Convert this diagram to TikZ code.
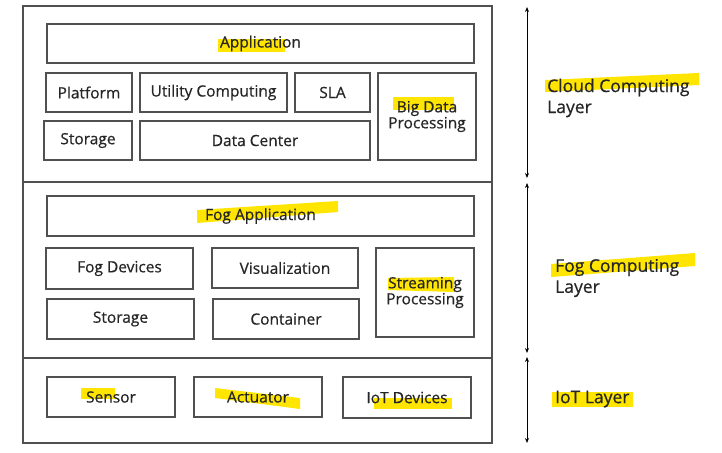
\documentclass[tikz,border=0pt]{standalone}
\usepackage{fontspec}
\setmainfont{Open Sans}[FakeBold=0.6]
\usetikzlibrary{arrows.meta}
\definecolor{hl}{HTML}{FFE500}
\definecolor{edge}{HTML}{505050}
\tikzset{
  box/.style={draw=edge, line width=1.1pt, inner sep=0pt, align=center,
    font=\fontsize{15.5}{18}\selectfont, text=black!85},
  frame/.style={draw=edge, line width=1.2pt},
  hlmark/.style={fill=hl, draw=none},
  lbl/.style={anchor=west, align=left, inner sep=0pt,
    font=\fontsize{17.5}{21}\selectfont, text=black!85},
  span/.style={line width=1pt, {Stealth[length=5pt,width=4pt]}-{Stealth[length=5pt,width=4pt]}}
}
\begin{document}
\begin{tikzpicture}[x=1pt,y=-1pt]
\useasboundingbox (0,0) rectangle (722,452);
% highlights
\fill[hlmark] (218,39) rectangle (285,52);
\fill[hlmark] (393,97) rectangle (454,110);
\fill[hlmark] (197,210) -- (338,201) -- (338,212) -- (197,223) -- cycle;
\fill[hlmark] (388,278) -- (454,277) -- (454,292) -- (388,290) -- cycle;
\fill[hlmark] (81,388) rectangle (115,399);
\fill[hlmark] (215,388) -- (300,398) -- (300,409) -- (215,398) -- cycle;
\fill[hlmark] (374,398) rectangle (452,409);
\fill[hlmark] (545,80) -- (699,73) -- (699,85) -- (545,92) -- cycle;
\fill[hlmark] (551,264) -- (695,253) -- (695,266) -- (551,277) -- cycle;
\fill[hlmark] (552,392) rectangle (633,407);
% frame
\draw[frame] (23,6) rectangle (492,443);
\draw[frame] (23,182) -- (492,182);
\draw[frame] (23,358) -- (492,358);
% cloud layer
\node[box, minimum width=427, minimum height=39] (app) at (260.5,43.5) {Application};
\node[box, minimum width=86, minimum height=39] (plat) at (89,92.5) {Platform};
\node[box, minimum width=147, minimum height=39] (util) at (213.5,92.5) {Utility Computing};
\node[box, minimum width=75, minimum height=39] (sla) at (332.5,92.5) {SLA};
\node[box, minimum width=98, minimum height=87] (big) at (427,116.5) {Big Data\\[-2pt]Processing};
\node[box, minimum width=88, minimum height=39] (stor1) at (88,140.5) {Storage};
\node[box, minimum width=230, minimum height=39] (dc) at (255,140.5) {Data Center};
% fog layer
\node[box, minimum width=427, minimum height=40] (fapp) at (260.5,216) {Fog Application};
\node[box, minimum width=147, minimum height=41] (fdev) at (119.5,268.5) {Fog Devices};
\node[box, minimum width=146, minimum height=40] (vis) at (285,268) {Visualization};
\node[box, minimum width=98, minimum height=89] (stream) at (425,292.5) {Streaming\\[-2pt]Processing};
\node[box, minimum width=147, minimum height=40] (stor2) at (120.5,319) {Storage};
\node[box, minimum width=146, minimum height=40] (cont) at (286,319) {Container};
% iot layer
\node[box, minimum width=128, minimum height=40] (sens) at (111,397) {Sensor};
\node[box, minimum width=128, minimum height=40] (act) at (258,397) {Actuator};
\node[box, minimum width=128, minimum height=41] (iotd) at (407,397.5) {IoT Devices};
% layer labels
\node[lbl] (lcloud) at (547,98) {Cloud Computing\\Layer};
\node[lbl] (lfog) at (555,278) {Fog Computing\\Layer};
\node[lbl] (liot) at (555,399) {IoT Layer};
% spans
\coordinate (a1) at (527,7);
\coordinate (a2) at (527,178);
\coordinate (b1) at (527,183);
\coordinate (b2) at (527,353);
\coordinate (c1) at (527,357);
\coordinate (c2) at (527,443);
\draw[span] (a1) -- (a2);
\draw[span] (b1) -- (b2);
\draw[span] (c1) -- (c2);
\end{tikzpicture}
\end{document}
